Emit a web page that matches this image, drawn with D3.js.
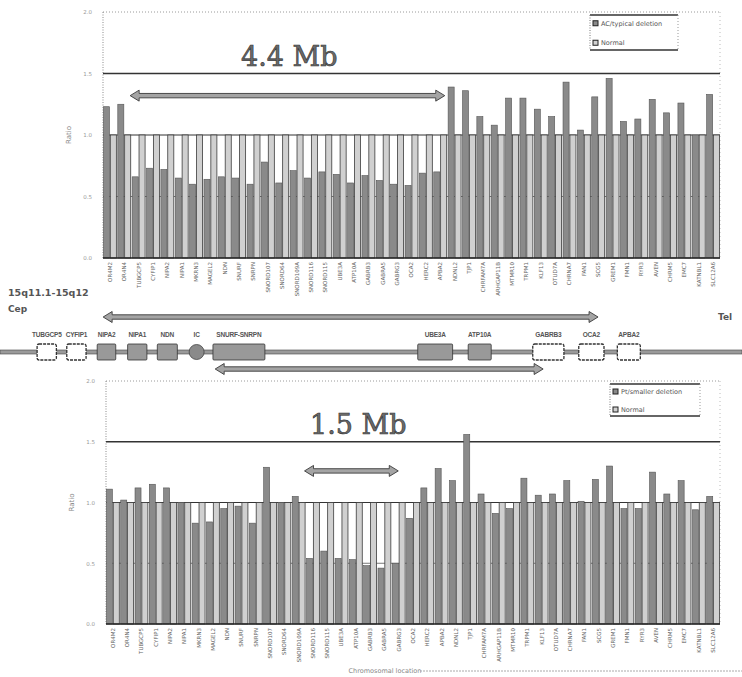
<!DOCTYPE html>
<html>
<head>
<meta charset="utf-8">
<script src="https://cdn.jsdelivr.net/npm/d3@7"></script>
<style>
  body { margin: 0; background: #fff; }
  svg { display: block; }
</style>
</head>
<body>
<svg id="fig" width="742" height="677"></svg>
<script>
// probe names along 15q (x axis, same order in both panels)
var probes = ["OR4M2", "OR4N4", "TUBGCP5", "CYFIP1", "NIPA2", "NIPA1", "MKRN3", "MAGEL2",
    "NDN", "SNURF", "SNRPN", "SNORD107", "SNORD64", "SNORD109A", "SNORD116", "SNORD115",
    "UBE3A", "ATP10A", "GABRB3", "GABRA5", "GABRG3", "OCA2", "HERC2", "APBA2",
    "NDNL2", "TJP1", "CHRFAM7A", "ARHGAP11B", "MTMR10", "TRPM1", "KLF13", "OTUD7A",
    "CHRNA7", "FAN1", "SCG5", "GREM1", "FMN1", "RYR3", "AVEN", "CHRM5",
    "EMC7", "KATNBL1", "SLC12A6"];

var ratioTicks = [0, 0.5, 1, 1.5, 2];

// ratios
var typicalDeletion = [1.23, 1.25, 0.66, 0.73, 0.72, 0.65, 0.60, 0.64, 0.66, 0.65,
    0.60, 0.78, 0.61, 0.71, 0.65, 0.70, 0.68, 0.61, 0.67, 0.63,
    0.60, 0.59, 0.69, 0.70, 1.39, 1.36, 1.15, 1.08, 1.30, 1.30,
    1.21, 1.15, 1.43, 1.04, 1.31, 1.46, 1.11, 1.13, 1.29, 1.18,
    1.26, 1.00, 1.33];
var normalTop = [1, 1, 1, 1, 1, 1, 1, 1, 1, 1, 1, 1, 1, 1, 1, 1, 1, 1, 1, 1, 1, 1,
    1, 1, 1, 1, 1, 1, 1, 1, 1, 1, 1, 1, 1, 1, 1, 1, 1, 1, 1, 1, 1];

var smallDeletion = [1.11, 1.02, 1.12, 1.15, 1.12, 1.00, 0.83, 0.84, 0.95, 0.97,
    0.83, 1.29, 1.00, 1.05, 0.54, 0.60, 0.54, 0.53, 0.48, 0.46,
    0.50, 0.87, 1.12, 1.28, 1.18, 1.56, 1.07, 0.91, 0.95, 1.20,
    1.06, 1.07, 1.18, 1.01, 1.19, 1.30, 0.95, 0.95, 1.25, 1.07,
    1.18, 0.94, 1.05];
var normalBottom = [1, 1, 1, 1, 1, 1, 1, 1, 1, 1, 1, 1, 1, 1, 1, 1, 1, 1, 1, 1, 1, 1,
    1, 1, 1, 1, 1, 1, 1, 1, 1, 1, 1, 1, 1, 1, 1, 1, 1, 1, 1, 1, 1];

var legendTop = ["AC/typical deletion", "Normal"];
var legendBottom = ["Pt/smaller deletion", "Normal"];

// gene map (track units 0-100 across the page)
var geneNames = ["TUBGCP5", "CYFIP1", "NIPA2", "NIPA1", "NDN", "IC", "SNURF-SNRPN",
    "UBE3A", "ATP10A", "GABRB3", "OCA2", "APBA2"];
var geneStart = [5.0, 9.0, 13.1, 17.2, 21.2, 26.5, 28.7, 56.3, 63.1, 71.8, 78.0, 83.2];
var geneEnd =   [7.6, 11.6, 15.6, 19.8, 23.9, 26.5, 35.7, 61.0, 66.2, 76.0, 81.4, 86.3];
var geneKind = ["open", "open", "filled", "filled", "filled", "circle", "filled",
    "filled", "filled", "open", "open", "open"];
var regionStart = [13.9, 29.0];
var regionEnd = [80.6, 73.2];

var svg = d3.select("#fig");
svg.append("rect").attr("width", 742).attr("height", 677).attr("fill", "#fff");

var delColour = "#8a8a8a",
    normColour = "#d0d0d0";

// block arrow with heads on one or both ends
function blockArrow(g, x1, x2, y, both) {
    var h = 2.2, hw = 5.5, hl = 9;
    var p = d3.path();
    if (both) {
        p.moveTo(x1, y);
        p.lineTo(x1 + hl, y - hw);
        p.lineTo(x1 + hl, y - h);
    } else {
        p.moveTo(x1, y - h);
    }
    p.lineTo(x2 - hl, y - h);
    p.lineTo(x2 - hl, y - hw);
    p.lineTo(x2, y);
    p.lineTo(x2 - hl, y + hw);
    p.lineTo(x2 - hl, y + h);
    if (both) {
        p.lineTo(x1 + hl, y + h);
        p.lineTo(x1 + hl, y + hw);
    } else {
        p.lineTo(x1, y + h);
    }
    p.closePath();
    g.append("path")
        .attr("d", p.toString())
        .attr("fill", "#a4a4a4")
        .attr("stroke", "#3a3a3a")
        .attr("stroke-width", 0.9);
}

function drawPanel(o) {
    var g = svg.append("g");

    var x = d3.scaleBand()
        .domain(probes)
        .range([o.left, o.right])
        .paddingInner(0.1)
        .paddingOuter(0.03);
    var sub = d3.scaleBand()
        .domain(["del", "norm"])
        .range([0, x.bandwidth()])
        .paddingInner(0.12);
    var y = d3.scaleLinear()
        .domain([0, 2])
        .range([o.y0, o.y2]);

    // frame (dotted)
    g.append("line")
        .attr("x1", o.left).attr("x2", o.right)
        .attr("y1", y(2)).attr("y2", y(2))
        .attr("stroke", "#9a9a9a").attr("stroke-dasharray", "1,2");
    g.append("line")
        .attr("x1", o.left).attr("x2", o.left)
        .attr("y1", y(2)).attr("y2", y(0))
        .attr("stroke", "#8a8a8a").attr("stroke-dasharray", "1,1.5");
    g.append("line")
        .attr("x1", o.right).attr("x2", o.right)
        .attr("y1", y(2)).attr("y2", y(0))
        .attr("stroke", "#bbb").attr("stroke-dasharray", "1,3");

    // grid lines
    g.append("line")
        .attr("x1", o.left).attr("x2", o.right)
        .attr("y1", y(1.5)).attr("y2", y(1.5))
        .attr("stroke", "#333").attr("stroke-width", 1.6);
    g.append("line")
        .attr("x1", o.left).attr("x2", o.right)
        .attr("y1", y(0.5)).attr("y2", y(0.5))
        .attr("stroke", "#555").attr("stroke-width", 0.8);
    g.append("line")
        .attr("x1", o.left).attr("x2", o.right)
        .attr("y1", y(1)).attr("y2", y(1))
        .attr("stroke", "#333").attr("stroke-width", 1);

    // y axis
    var yAxis = g.append("g")
        .attr("transform", "translate(" + o.left + ",0)")
        .call(d3.axisLeft(y).tickValues(ratioTicks).tickFormat(d3.format(".1f")).tickSize(0).tickPadding(11));
    yAxis.select(".domain").remove();
    yAxis.selectAll("text")
        .style("font-family", "DejaVu Sans")
        .style("font-size", "5.5px")
        .style("fill", "#999");

    g.append("text")
        .attr("transform", "translate(" + (o.left - 32) + "," + ((o.y0 + o.y2) / 2) + ") rotate(-90)")
        .attr("text-anchor", "middle")
        .style("font-family", "DejaVu Sans")
        .style("font-size", "7px")
        .style("fill", "#888")
        .text("Ratio");

    // deletion bars
    g.selectAll(".del")
        .data(o.values)
        .enter().append("rect")
        .attr("class", "del")
        .attr("x", function (d, i) { return x(probes[i]) + sub("del"); })
        .attr("width", sub.bandwidth())
        .attr("y", function (d) { return y(d); })
        .attr("height", function (d) { return y(0) - y(d); })
        .attr("fill", delColour)
        .attr("stroke", "#555")
        .attr("stroke-width", 0.6);

    // normal bars
    g.selectAll(".norm")
        .data(o.normals)
        .enter().append("rect")
        .attr("class", "norm")
        .attr("x", function (d, i) { return x(probes[i]) + sub("norm"); })
        .attr("width", sub.bandwidth())
        .attr("y", function (d) { return y(d); })
        .attr("height", function (d) { return y(0) - y(d); })
        .attr("fill", normColour)
        .attr("stroke", "#3c3c3c")
        .attr("stroke-width", 0.8);

    // baseline
    g.append("line")
        .attr("x1", o.left).attr("x2", o.right)
        .attr("y1", y(0)).attr("y2", y(0))
        .attr("stroke", "#222").attr("stroke-width", 1.5);

    // x axis labels
    var xAxis = g.append("g")
        .attr("transform", "translate(0," + y(0) + ")")
        .call(d3.axisBottom(x).tickSize(0).tickPadding(0));
    xAxis.select(".domain").remove();
    xAxis.selectAll("text")
        .attr("transform", "translate(0,4) rotate(-90)")
        .attr("x", 0).attr("y", 0).attr("dy", "0.35em")
        .style("text-anchor", "end")
        .style("font-family", "DejaVu Sans")
        .style("font-size", "5.5px")
        .style("fill", "#666");

    // size label and arrow
    g.append("text")
        .attr("x", o.left + o.labelDx)
        .attr("y", y(1.5) - 8)
        .style("font-family", "DejaVu Serif")
        .style("font-size", "27px")
        .style("fill", "#6a6a6a")
        .style("stroke", "#333")
        .style("stroke-width", 0.6)
        .text(o.label);

    blockArrow(g, x(probes[o.arrowFrom]) - 2, x(probes[o.arrowTo]) + o.arrowEndDx, y(o.arrowAt), true);

    // legend
    var lg = g.append("g").attr("transform", "translate(" + o.legX + "," + o.legY + ")");
    lg.append("line").attr("x1", 0).attr("x2", o.legW).attr("y1", 0).attr("y2", 0)
        .attr("stroke", "#333").attr("stroke-width", 1.3);
    lg.append("line").attr("x1", 0).attr("x2", o.legW).attr("y1", o.legH).attr("y2", o.legH)
        .attr("stroke", "#333").attr("stroke-width", 1.3);
    lg.append("line").attr("x1", 0).attr("x2", 0).attr("y1", 0).attr("y2", o.legH)
        .attr("stroke", "#777").attr("stroke-dasharray", "1,1.5");
    lg.append("line").attr("x1", o.legW).attr("x2", o.legW).attr("y1", 0).attr("y2", o.legH)
        .attr("stroke", "#999").attr("stroke-dasharray", "1,2");
    var colours = [delColour, normColour];
    lg.selectAll(".key")
        .data(o.legend)
        .enter().append("rect")
        .attr("x", 3)
        .attr("y", function (d, i) { return o.legH * (i + 0.5) / 2 + (i === 0 ? 0 : 2) - 3; })
        .attr("width", 5).attr("height", 5)
        .attr("fill", function (d, i) { return colours[i]; })
        .attr("stroke", "#222").attr("stroke-width", 1);
    lg.selectAll(".keytext")
        .data(o.legend)
        .enter().append("text")
        .attr("x", 11)
        .attr("y", function (d, i) { return o.legH * (i + 0.5) / 2 + (i === 0 ? 0 : 2) + 2; })
        .style("font-family", "DejaVu Sans")
        .style("font-size", "6.5px")
        .style("fill", "#555")
        .text(function (d) { return d; });
}

drawPanel({
    left: 103, right: 720, y0: 258, y2: 12,
    values: typicalDeletion, normals: normalTop,
    label: "4.4 Mb", labelDx: 138,
    arrowFrom: 2, arrowTo: 23, arrowEndDx: 11, arrowAt: 1.32,
    legend: legendTop, legX: 590, legY: 15, legW: 88, legH: 35
});

drawPanel({
    left: 106, right: 720, y0: 624, y2: 381,
    values: smallDeletion, normals: normalBottom,
    label: "1.5 Mb", labelDx: 204,
    arrowFrom: 14, arrowTo: 20, arrowEndDx: 6, arrowAt: 1.26,
    legend: legendBottom, legX: 610, legY: 384, legW: 90, legH: 32
});

// x axis title
svg.append("text")
    .attr("x", 385).attr("y", 673)
    .attr("text-anchor", "middle")
    .style("font-family", "DejaVu Sans")
    .style("font-size", "6.5px")
    .style("fill", "#888")
    .text("Chromosomal location");
svg.append("line")
    .attr("x1", 420).attr("x2", 742).attr("y1", 671).attr("y2", 671)
    .attr("stroke", "#aaa").attr("stroke-dasharray", "2,1");

// gene map between the two panels
var track = d3.scaleLinear().domain([0, 100]).range([0, 742]);
var map = svg.append("g");

map.append("text").attr("x", 8).attr("y", 296)
    .style("font-family", "DejaVu Sans").style("font-weight", "bold")
    .style("font-size", "9.5px").style("fill", "#555")
    .text("15q11.1-15q12");
map.append("text").attr("x", 8).attr("y", 312)
    .style("font-family", "DejaVu Sans").style("font-weight", "bold")
    .style("font-size", "9px").style("fill", "#555")
    .text("Cep");
map.append("text").attr("x", 718).attr("y", 320)
    .style("font-family", "DejaVu Sans").style("font-weight", "bold")
    .style("font-size", "9px").style("fill", "#555")
    .text("Tel");

blockArrow(map, track(regionStart[0]), track(regionEnd[0]), 317, true);
blockArrow(map, track(regionStart[1]), track(regionEnd[1]), 369, true);

// chromosome line
map.append("rect")
    .attr("x", track(0)).attr("width", track(100) - track(0))
    .attr("y", 350).attr("height", 4)
    .attr("fill", "#9a9a9a").attr("stroke", "#444").attr("stroke-width", 0.6);

geneNames.forEach(function (name, i) {
    var x1 = track(geneStart[i]), x2 = track(geneEnd[i]);
    if (geneKind[i] === "circle") {
        map.append("circle")
            .attr("cx", x1).attr("cy", 352).attr("r", 7.5)
            .attr("fill", "#8a8a8a").attr("stroke", "#444").attr("stroke-width", 0.8);
    } else {
        map.append("rect")
            .attr("x", x1).attr("y", 344)
            .attr("width", x2 - x1).attr("height", 16)
            .attr("rx", geneKind[i] === "open" ? 2 : 1)
            .attr("fill", geneKind[i] === "open" ? "#fff" : "#999")
            .attr("stroke", "#333")
            .attr("stroke-width", geneKind[i] === "open" ? 1.3 : 0.8)
            .attr("stroke-dasharray", geneKind[i] === "open" ? "3,1" : null);
    }
    map.append("text")
        .attr("x", (x1 + x2) / 2).attr("y", 337)
        .attr("text-anchor", "middle")
        .style("font-family", "Liberation Sans")
        .style("font-weight", "bold")
        .style("font-size", "6.5px")
        .style("letter-spacing", "-0.2px")
        .style("fill", "#555")
        .text(name);
});
</script>
</body>
</html>
